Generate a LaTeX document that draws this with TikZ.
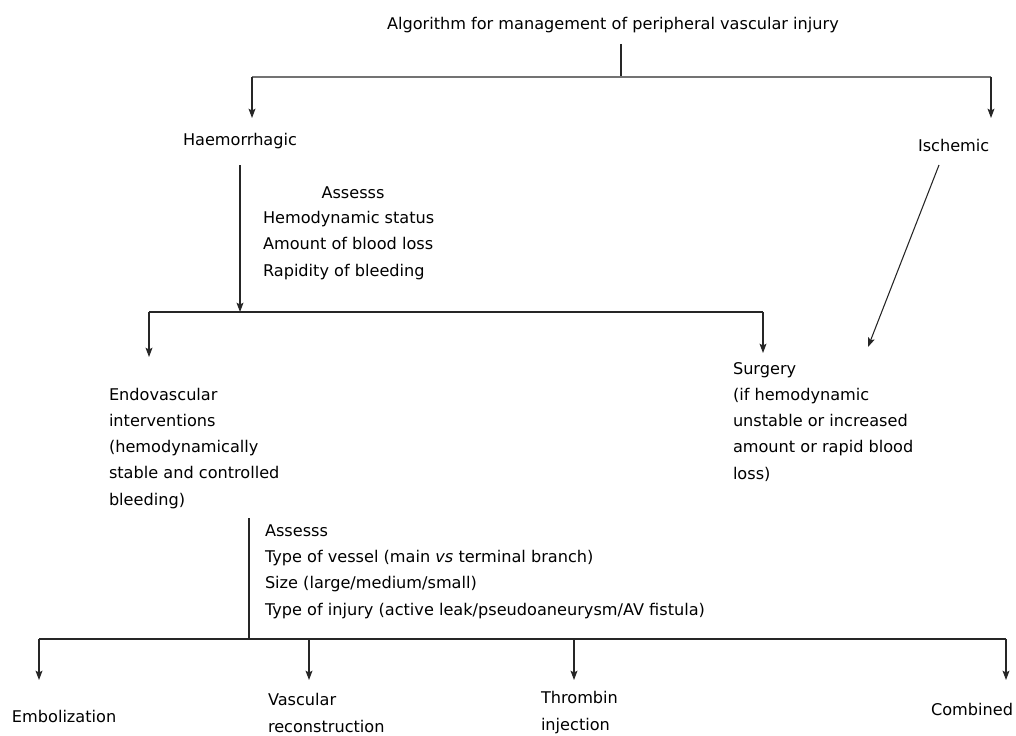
\documentclass[tikz,border=0pt]{standalone}
\usepackage{fontspec}
\setmainfont{DejaVu Sans}
\usetikzlibrary{arrows.meta}
\begin{document}
\begin{tikzpicture}[x=0.75pt,y=-0.75pt,
  lbl/.style={inner sep=0pt,outer sep=0pt,align=left,
    font=\fontsize{12.1}{19.6}\selectfont},
  wire/.style={draw=black!85,line width=0.8pt},
  topbar/.style={draw=black!55,line width=1.5pt},
  arr/.style={wire,-{Stealth[length=7pt,width=5.2pt,inset=1.4pt]}}]
\useasboundingbox (0,0) rectangle (1016,735);

% title and first split (multi-line labels are anchored on their last baseline)
\node[lbl,anchor=base west] (title) at (387,30) {Algorithm for management of peripheral vascular injury};
\coordinate (t0) at (621,44);
\coordinate (b1m) at (621,77);
\coordinate (b1l) at (252,77);
\coordinate (b1r) at (991,77);
\coordinate (haemIn) at (252,118);
\coordinate (ischIn) at (991,118);
\draw[wire] (t0) -- (b1m);
\draw[topbar] (b1l) -- (b1r);
\draw[arr] (b1l) -- (haemIn);
\draw[arr] (b1r) -- (ischIn);

\node[lbl,anchor=base] (haem) at (240,145) {Haemorrhagic};
\node[lbl,anchor=base west] (isch) at (918,151) {Ischemic};

% assessment of haemorrhage
\node[lbl,anchor=base] (assA) at (353,198) {Assesss};
\node[lbl,anchor=base west] (assB) at (263,276) {Hemodynamic status\\Amount of blood loss\\Rapidity of bleeding};

\coordinate (h0) at (240,165);
\coordinate (b2m) at (240,312);
\coordinate (b2l) at (149,312);
\coordinate (b2r) at (763,312);
\coordinate (endoIn) at (149,357);
\coordinate (surgIn) at (763,353);
\draw[arr] (h0) -- (b2m);
\draw[wire] (b2l) -- (b2r);
\draw[arr] (b2l) -- (endoIn);
\draw[arr] (b2r) -- (surgIn);

\coordinate (i0) at (939,165);
\coordinate (i1) at (868,347);
\draw[arr] (i0) -- (i1);

\node[lbl,anchor=base west] (endo) at (109,505) {Endovascular\\interventions\\(hemodynamically\\stable and controlled\\bleeding)};
\node[lbl,anchor=base west] (surg) at (733,479) {Surgery\\(if hemodynamic\\unstable or increased\\amount or rapid blood\\loss)};

% assessment for endovascular treatment
\coordinate (e0) at (249,518);
\coordinate (b3m) at (249,639);
\draw[wire] (e0) -- (b3m);
\node[lbl,anchor=base west] (ass2) at (265,615) {Assesss\\Type of vessel (main \textit{vs} terminal branch)\\Size (large/medium/small)\\Type of injury (active leak/pseudoaneurysm/AV fistula)};

\coordinate (b3a) at (39,639);
\coordinate (b3b) at (309,639);
\coordinate (b3c) at (574,639);
\coordinate (b3d) at (1006,639);
\coordinate (o1) at (39,680);
\coordinate (o2) at (309,680);
\coordinate (o3) at (574,680);
\coordinate (o4) at (1006,680);
\draw[wire] (b3a) -- (b3d);
\draw[arr] (b3a) -- (o1);
\draw[arr] (b3b) -- (o2);
\draw[arr] (b3c) -- (o3);
\draw[arr] (b3d) -- (o4);

\node[lbl,anchor=base west] (embo) at (12,722) {Embolization};
\node[lbl,anchor=base west] (recon) at (268,732) {Vascular\\reconstruction};
\node[lbl,anchor=base west] (thromb) at (541,730) {Thrombin\\injection};
\node[lbl,anchor=base east] (comb) at (1013,715) {Combined};
\end{tikzpicture}
\end{document}
